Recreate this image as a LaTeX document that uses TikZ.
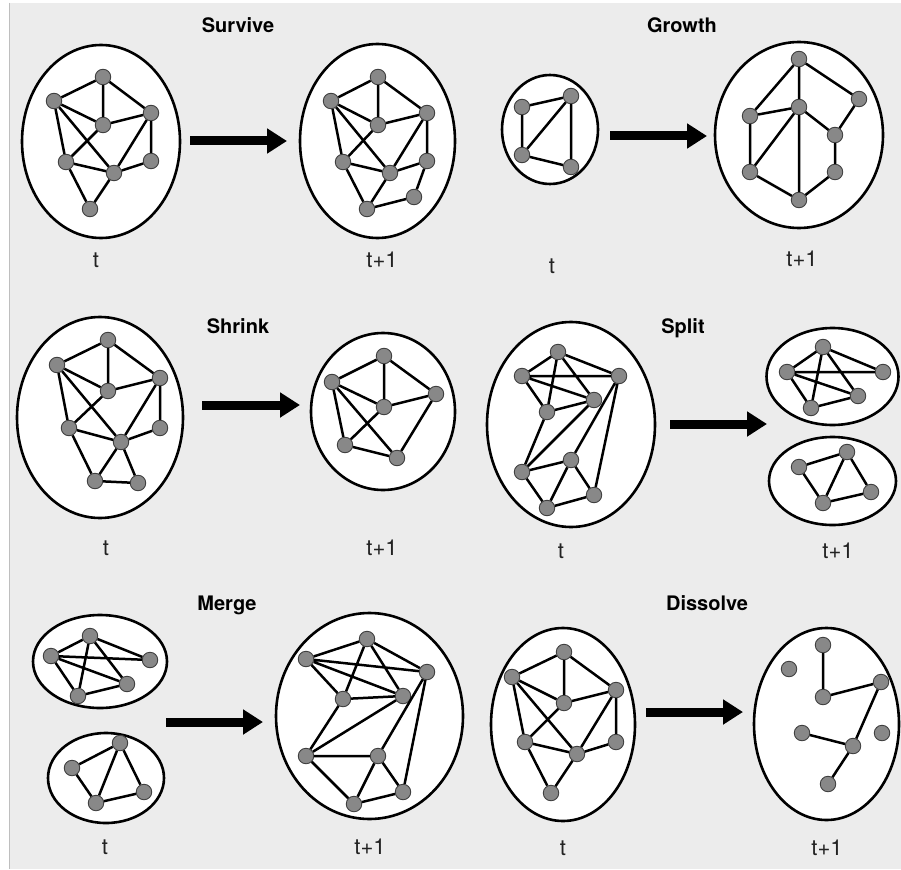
\documentclass[tikz,border=0pt]{standalone}
\usepackage{fontspec}
\setmainfont{TeX Gyre Heros}
\usepackage{tikz}
\usetikzlibrary{arrows.meta,shapes.geometric}
\definecolor{evBack}{RGB}{236,236,236}
\definecolor{evRule}{RGB}{190,190,190}
\definecolor{evNode}{RGB}{136,136,136}
\definecolor{evText}{RGB}{34,34,34}

\begin{document}
\begin{tikzpicture}[
  x=1pt, y=-1pt,
  comm/.style={ellipse, draw=black, fill=white, line width=2.6pt, inner sep=0pt},
  vtx/.style={circle, draw=black!75, fill=evNode, line width=0.9pt, minimum size=15.5pt, inner sep=0pt},
  link/.style={draw=black, line width=2.5pt},
  evo/.style={line width=9pt, -{Triangle[length=20pt, width=24pt]}},
  ttl/.style={anchor=base, font=\fontsize{20}{24}\selectfont\bfseries, text=black},
  lbl/.style={anchor=base, font=\fontsize{22}{26}\selectfont, text=evText}
]
\useasboundingbox (0,0) rectangle (901,869);
\fill[white] (0,0) rectangle (901,869);
\fill[evBack] (9,3) rectangle (901,869);
\draw[evRule, line width=1pt] (9.5,3) -- (9.5,869);

\node[ttl] (tsurv) at (238,33)  {Survive};
\node[ttl] (tgrow) at (682,33)  {Growth};
\node[ttl] (tshri) at (238,333) {Shrink};
\node[ttl] (tspli) at (683,333) {Split};
\node[ttl] (tmerg) at (227,610) {Merge};
\node[ttl] (tdiss) at (707,610) {Dissolve};

\node[lbl] (lsv) at (96,267)  {t};
\node[lbl] (lsw) at (382,267) {t+1};
\node[lbl] (lgr) at (552,273) {t};
\node[lbl] (lgs) at (802,266) {t+1};
\node[lbl] (lsk) at (106,555) {t};
\node[lbl] (lsl) at (382,555) {t+1};
\node[lbl] (lsp) at (561,558) {t};
\node[lbl] (lsq) at (838,558) {t+1};
\node[lbl] (lmg) at (105,854) {t};
\node[lbl] (lmi) at (370,854) {t+1};
\node[lbl] (lds) at (563,855) {t};
\node[lbl] (ldt) at (827,855) {t+1};

\node[comm, minimum width=158pt, minimum height=193pt] (csv) at (101,141.5) {};
\node[comm, minimum width=155pt, minimum height=194pt] (csw) at (377.5,141) {};
\node[comm, minimum width=96pt,  minimum height=109pt] (cgr) at (550,129.5) {};
\node[comm, minimum width=168pt, minimum height=186pt] (cgs) at (799,135) {};
\node[comm, minimum width=166pt, minimum height=201pt] (csk) at (100,417.5) {};
\node[comm, minimum width=144pt, minimum height=157pt] (csl) at (383,411.5) {};
\node[comm, minimum width=168pt, minimum height=205pt] (csp) at (571,424.5) {};
\node[comm, minimum width=132pt, minimum height=97pt]  (csq) at (832.5,376.5) {};
\node[comm, minimum width=127pt, minimum height=88pt]  (csr) at (832.5,481) {};
\node[comm, minimum width=134pt, minimum height=93pt]  (cmg) at (100,661.5) {};
\node[comm, minimum width=116pt, minimum height=90pt]  (cmh) at (106,778) {};
\node[comm, minimum width=187pt, minimum height=206pt] (cmi) at (369.5,716) {};
\node[comm, minimum width=144pt, minimum height=193pt] (cds) at (563,724.5) {};
\node[comm, minimum width=145pt, minimum height=192pt] (cdt) at (826.5,724) {};

\coordinate (asv) at (190,141);
\coordinate (asw) at (287,141);
\coordinate (agr) at (610,136);
\coordinate (ags) at (707,136);
\coordinate (ask) at (202,405);
\coordinate (asl) at (300,405);
\coordinate (asp) at (670,424);
\coordinate (asq) at (767,424);
\coordinate (amg) at (166,722);
\coordinate (ami) at (263,722);
\coordinate (ads) at (646,712);
\coordinate (adt) at (743,712);
\draw[evo] (asv) -- (asw);
\draw[evo] (agr) -- (ags);
\draw[evo] (ask) -- (asl);
\draw[evo] (asp) -- (asq);
\draw[evo] (amg) -- (ami);
\draw[evo] (ads) -- (adt);

\node[vtx] (sv1) at (103,77) {};
\node[vtx] (sv2) at (54,101) {};
\node[vtx] (sv3) at (151,113) {};
\node[vtx] (sv4) at (103,125) {};
\node[vtx] (sv5) at (66,162) {};
\node[vtx] (sv6) at (151,161) {};
\node[vtx] (sv7) at (114,173) {};
\node[vtx] (sv8) at (90,209) {};
\draw[link] (sv2) -- (sv1) (sv1) -- (sv4) (sv1) -- (sv3) (sv2) -- (sv4) (sv4) -- (sv3)
  (sv2) -- (sv5) (sv2) -- (sv7) (sv4) -- (sv5) (sv3) -- (sv7) (sv3) -- (sv6)
  (sv5) -- (sv7) (sv7) -- (sv6) (sv5) -- (sv8) (sv7) -- (sv8);

\node[vtx] (sw1) at (378,77) {};
\node[vtx] (sw2) at (331,101) {};
\node[vtx] (sw3) at (427,113) {};
\node[vtx] (sw4) at (378,125) {};
\node[vtx] (sw5) at (343,162) {};
\node[vtx] (sw6) at (427,161) {};
\node[vtx] (sw7) at (390,173) {};
\node[vtx] (sw8) at (414,197) {};
\node[vtx] (sw9) at (367,209) {};
\draw[link] (sw2) -- (sw1) (sw1) -- (sw4) (sw1) -- (sw3) (sw2) -- (sw4) (sw4) -- (sw3)
  (sw2) -- (sw5) (sw2) -- (sw7) (sw4) -- (sw5) (sw3) -- (sw7) (sw3) -- (sw6)
  (sw5) -- (sw7) (sw7) -- (sw6) (sw5) -- (sw9) (sw7) -- (sw9) (sw6) -- (sw8) (sw8) -- (sw9);

\node[vtx] (gr1) at (522,107) {};
\node[vtx] (gr2) at (571,96) {};
\node[vtx] (gr3) at (522,155) {};
\node[vtx] (gr4) at (571,167) {};
\draw[link] (gr1) -- (gr2) (gr1) -- (gr3) (gr2) -- (gr3) (gr2) -- (gr4) (gr3) -- (gr4);

\node[vtx] (gs1) at (799,59) {};
\node[vtx] (gs2) at (859,99) {};
\node[vtx] (gs3) at (750,116) {};
\node[vtx] (gs4) at (799,107) {};
\node[vtx] (gs5) at (835,135) {};
\node[vtx] (gs6) at (750,172) {};
\node[vtx] (gs7) at (835,172) {};
\node[vtx] (gs8) at (799,200) {};
\draw[link] (gs1) -- (gs3) (gs1) -- (gs4) (gs1) -- (gs2) (gs3) -- (gs4) (gs3) -- (gs6)
  (gs4) -- (gs6) (gs4) -- (gs8) (gs4) -- (gs5) (gs2) -- (gs5) (gs5) -- (gs7)
  (gs7) -- (gs8) (gs6) -- (gs8);

\node[vtx] (sk1) at (108,340) {};
\node[vtx] (sk2) at (57,365) {};
\node[vtx] (sk3) at (160,378) {};
\node[vtx] (sk4) at (108,391) {};
\node[vtx] (sk5) at (69,428) {};
\node[vtx] (sk6) at (160,428) {};
\node[vtx] (sk7) at (121,442) {};
\node[vtx] (sk8) at (95,481) {};
\node[vtx] (sk9) at (138,483) {};
\draw[link] (sk2) -- (sk1) (sk1) -- (sk4) (sk1) -- (sk3) (sk2) -- (sk4) (sk4) -- (sk3)
  (sk2) -- (sk5) (sk2) -- (sk7) (sk4) -- (sk5) (sk3) -- (sk7) (sk3) -- (sk6)
  (sk5) -- (sk7) (sk7) -- (sk6) (sk5) -- (sk8) (sk7) -- (sk8) (sk7) -- (sk9) (sk8) -- (sk9);

\node[vtx] (sl1) at (384,356) {};
\node[vtx] (sl2) at (332,382) {};
\node[vtx] (sl3) at (436,394) {};
\node[vtx] (sl4) at (384,407) {};
\node[vtx] (sl5) at (345,445) {};
\node[vtx] (sl6) at (397,458) {};
\draw[link] (sl2) -- (sl1) (sl1) -- (sl4) (sl1) -- (sl3) (sl2) -- (sl4) (sl4) -- (sl3)
  (sl2) -- (sl5) (sl2) -- (sl6) (sl4) -- (sl5) (sl3) -- (sl6) (sl5) -- (sl6);

\node[vtx] (sp1) at (558,352) {};
\node[vtx] (sp2) at (522,376) {};
\node[vtx] (sp3) at (619,376) {};
\node[vtx] (sp4) at (547,412) {};
\node[vtx] (sp5) at (594,400) {};
\node[vtx] (sp6) at (522,472) {};
\node[vtx] (sp7) at (571,460) {};
\node[vtx] (sp8) at (547,508) {};
\node[vtx] (sp9) at (594,495) {};
\draw[link] (sp2) -- (sp1) (sp2) -- (sp3) (sp2) -- (sp5) (sp2) -- (sp4) (sp1) -- (sp4)
  (sp1) -- (sp5) (sp1) -- (sp3) (sp4) -- (sp5) (sp4) -- (sp6) (sp6) -- (sp5)
  (sp6) -- (sp7) (sp6) -- (sp8) (sp7) -- (sp8) (sp7) -- (sp9) (sp8) -- (sp9)
  (sp3) -- (sp7) (sp3) -- (sp9);

\node[vtx] (sq1) at (823,347) {};
\node[vtx] (sq2) at (787,372) {};
\node[vtx] (sq3) at (883,372) {};
\node[vtx] (sq4) at (858,396) {};
\node[vtx] (sq5) at (811,408) {};
\draw[link] (sq2) -- (sq1) (sq1) -- (sq3) (sq2) -- (sq3) (sq2) -- (sq4) (sq1) -- (sq4)
  (sq1) -- (sq5) (sq2) -- (sq5) (sq5) -- (sq4);

\node[vtx] (sr1) at (799,467) {};
\node[vtx] (sr2) at (847,452) {};
\node[vtx] (sr3) at (871,492) {};
\node[vtx] (sr4) at (823,503) {};
\draw[link] (sr1) -- (sr2) (sr1) -- (sr4) (sr2) -- (sr4) (sr2) -- (sr3) (sr4) -- (sr3);

\node[vtx] (mg1) at (90,636) {};
\node[vtx] (mg2) at (51,656) {};
\node[vtx] (mg3) at (150,660) {};
\node[vtx] (mg4) at (127,684) {};
\node[vtx] (mg5) at (78,696) {};
\draw[link] (mg2) -- (mg1) (mg1) -- (mg3) (mg2) -- (mg3) (mg2) -- (mg4) (mg1) -- (mg4)
  (mg1) -- (mg5) (mg2) -- (mg5) (mg5) -- (mg4);

\node[vtx] (mh1) at (72,768) {};
\node[vtx] (mh2) at (120,743) {};
\node[vtx] (mh3) at (144,792) {};
\node[vtx] (mh4) at (96,803) {};
\draw[link] (mh1) -- (mh2) (mh1) -- (mh4) (mh2) -- (mh4) (mh2) -- (mh3) (mh4) -- (mh3);

\node[vtx] (mi1) at (367,639) {};
\node[vtx] (mi2) at (306,659) {};
\node[vtx] (mi3) at (427,672) {};
\node[vtx] (mi4) at (343,699) {};
\node[vtx] (mi5) at (403,696) {};
\node[vtx] (mi6) at (306,756) {};
\node[vtx] (mi7) at (378,756) {};
\node[vtx] (mi8) at (354,804) {};
\node[vtx] (mi9) at (403,792) {};
\draw[link] (mi2) -- (mi1) (mi2) -- (mi3) (mi2) -- (mi5) (mi2) -- (mi4) (mi1) -- (mi4)
  (mi1) -- (mi5) (mi1) -- (mi3) (mi4) -- (mi5) (mi4) -- (mi6) (mi6) -- (mi5)
  (mi6) -- (mi7) (mi6) -- (mi8) (mi7) -- (mi8) (mi7) -- (mi9) (mi8) -- (mi9)
  (mi3) -- (mi7) (mi3) -- (mi9);

\node[vtx] (ds1) at (564,652) {};
\node[vtx] (ds2) at (512,677) {};
\node[vtx] (ds3) at (616,690) {};
\node[vtx] (ds4) at (564,703) {};
\node[vtx] (ds5) at (525,742) {};
\node[vtx] (ds6) at (616,742) {};
\node[vtx] (ds7) at (577,754) {};
\node[vtx] (ds8) at (551,793) {};
\draw[link] (ds2) -- (ds1) (ds1) -- (ds4) (ds1) -- (ds3) (ds2) -- (ds4) (ds4) -- (ds3)
  (ds2) -- (ds5) (ds2) -- (ds7) (ds4) -- (ds5) (ds3) -- (ds7) (ds3) -- (ds6)
  (ds5) -- (ds7) (ds7) -- (ds6) (ds5) -- (ds8) (ds7) -- (ds8);

\node[vtx] (dt1) at (823,645) {};
\node[vtx] (dt2) at (789,669) {};
\node[vtx] (dt3) at (881,682) {};
\node[vtx] (dt4) at (823,697) {};
\node[vtx] (dt5) at (802,733) {};
\node[vtx] (dt6) at (882,733) {};
\node[vtx] (dt7) at (853,746) {};
\node[vtx] (dt8) at (828,784) {};
\draw[link] (dt1) -- (dt4) (dt4) -- (dt3) (dt3) -- (dt7) (dt5) -- (dt7) (dt7) -- (dt8);
\end{tikzpicture}
\end{document}
